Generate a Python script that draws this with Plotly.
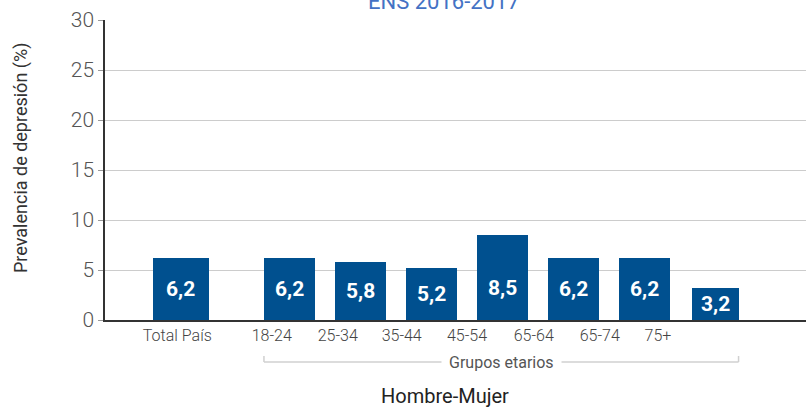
import plotly.graph_objects as go

# ---- data ----
categories = ["Total País", "18-24", "25-34", "35-44", "45-54", "65-64", "65-74", "75+"]
values = [6.2, 6.2, 5.8, 5.2, 8.5, 6.2, 6.2, 3.2]
value_labels = ["6,2", "6,2", "5,8", "5,2", "8,5", "6,2", "6,2", "3,2"]
tick_labels = ["Total País", "18-24", "25-34", "35-44", "45-54", "65-64", "65-74", "75+"]
title_text = "ENS 2016-2017"
y_title = "Prevalencia de depresión (%)"
x_title = "Hombre-Mujer"
group_label = "Grupos etarios"

# ---- layout constants ----
FONT = "Roboto, Liberation Sans, sans-serif"
BAR_COLOR = "#00508F"
bar_pos = [-1.53, 0, 1, 2, 3, 4, 5, 6]
bar_width = [0.78, 0.72, 0.72, 0.72, 0.72, 0.72, 0.72, 0.65]
tick_pos = [-1.58, -0.25, 0.68, 1.58, 2.5, 3.44, 4.37, 5.19]
X_RANGE = [-2.599, 7.275]

# the page body margin is removed (post_script), figure fills the window
W, H = 806, 411
PL, PT, PB = 105, 20, 320   # plot left / top / bottom in px
PW, PHT = W - PL, PB - PT


def px_x(wx):
    return (wx - PL) / PW


def px_y(wy):
    return (PB - wy) / PHT


fig = go.Figure()
fig.add_trace(go.Bar(
    x=bar_pos, y=values, width=bar_width,
    marker=dict(color=BAR_COLOR, line=dict(width=0)),
    hovertext=categories, showlegend=False,
))

annotations = []
for xp, v, lab in zip(bar_pos, values, value_labels):
    annotations.append(dict(
        x=xp, y=min(v / 2, 3.2), xref="x", yref="y", text="<b>%s</b>" % lab,
        showarrow=False, font=dict(family=FONT, size=21, color="white"),
        xanchor="center", yanchor="middle"))

# title (partially cut off at top, as in the reference)
annotations.append(dict(
    x=px_x(444), y=px_y(2), xref="paper", yref="paper", text=title_text,
    showarrow=False, font=dict(family=FONT, size=22, color="#4472C4"),
    xanchor="center", yanchor="middle"))
# y title
annotations.append(dict(
    x=px_x(21), y=px_y(158), xref="paper", yref="paper", text=y_title,
    textangle=-90, showarrow=False, font=dict(family=FONT, size=18, color="#333333"),
    xanchor="center", yanchor="middle"))
# x title
annotations.append(dict(
    x=px_x(445), y=px_y(396), xref="paper", yref="paper", text=x_title,
    showarrow=False, font=dict(family=FONT, size=20, color="#222222"),
    xanchor="center", yanchor="middle"))

# bracket for age groups
left = bar_pos[1] - bar_width[1] / 2
right = bar_pos[-1] + bar_width[-1] / 2
mid = (left + right) / 2
yb = px_y(362)
yt = px_y(356)
shapes = [
    dict(type="line", xref="x", yref="paper", x0=left, x1=right, y0=yb, y1=yb,
         line=dict(color="#D0D0D0", width=1.5)),
    dict(type="line", xref="x", yref="paper", x0=left, x1=left, y0=yb, y1=yt,
         line=dict(color="#D0D0D0", width=1.5)),
    dict(type="line", xref="x", yref="paper", x0=right, x1=right, y0=yb, y1=yt,
         line=dict(color="#D0D0D0", width=1.5)),
]
annotations.append(dict(
    x=mid, y=yb, xref="x", yref="paper", text=group_label, showarrow=False,
    bgcolor="white", borderpad=7,
    font=dict(family=FONT, size=16, color="#555555"),
    xanchor="center", yanchor="middle"))

fig.update_layout(
    width=W, height=H,
    margin=dict(l=PL, r=0, t=PT, b=H - PB),
    paper_bgcolor="white", plot_bgcolor="white",
    annotations=annotations, shapes=shapes,
    bargap=0,
    xaxis=dict(
        range=X_RANGE, tickmode="array", tickvals=tick_pos, ticktext=tick_labels,
        showgrid=False, zeroline=False, showline=True, linecolor="#333333", linewidth=1.5,
        ticks="", tickfont=dict(family=FONT, size=16, color="#444444", weight=300),
        fixedrange=True,
    ),
    yaxis=dict(
        range=[0, 30], tickvals=[0, 5, 10, 15, 20, 25, 30],
        showgrid=True, gridcolor="#CCCCCC", gridwidth=1, zeroline=False,
        showline=True, linecolor="#333333", linewidth=1.5,
        ticks="outside", ticklen=5, tickcolor="#999999",
        tickfont=dict(family=FONT, size=21, color="#555555", weight=300),
    ),
)

fig.write_html(
    "out.html",
    config={"displayModeBar": False},
    post_script="document.body.style.margin='0';document.body.style.overflow='hidden';",
)
